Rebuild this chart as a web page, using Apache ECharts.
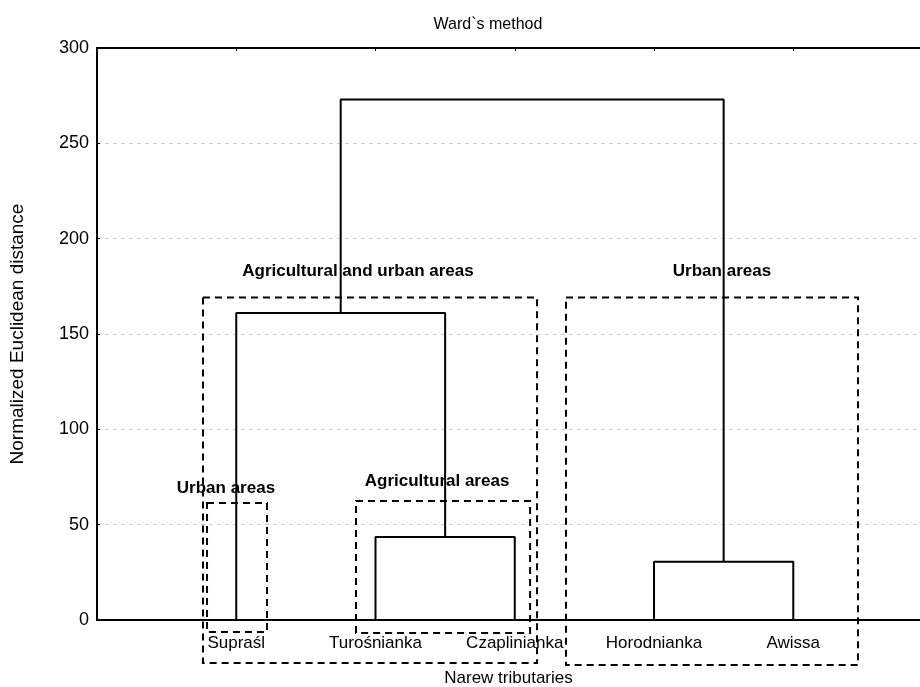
<!DOCTYPE html>
<html>
<head>
<meta charset="utf-8">
<script src="https://cdn.jsdelivr.net/npm/echarts@6/dist/echarts.min.js"></script>
<style>html,body{margin:0;padding:0;background:#fff}#c{width:920px;height:687px}</style>
</head>
<body>
<div id="c"></div>
<script>
// ---- data ----
var leaves = ['Supraśl', 'Turośnianka', 'Czaplinianka', 'Horodnianka', 'Awissa'];
// merges: [childA, childB, height]; nodes 0..4 are leaves, merges create nodes 5,6,...
var merges = [
  [1, 2, 43.5],
  [3, 4, 30.5],
  [0, 5, 161],
  [7, 6, 273]
];
var yTicks = [0, 50, 100, 150, 200, 250, 300];
// annotation groups
var groupNames = ['Agricultural and urban areas', 'Urban areas', 'Urban areas', 'Agricultural areas'];
var groupBoxes = [
  [0.761, 3.160, -22.5, 169.2],
  [3.368, 5.465, -23.6, 169.2],
  [0.790, 1.221, -6.3, 61.3],
  [1.860, 3.110, -6.8, 62.4]
];
var groupLabelPos = [
  [1.874, 183],
  [4.488, 183],
  [0.926, 69],
  [2.442, 73]
];

// ---- build dendrogram segments ----
var nodeX = leaves.map(function (_, i) { return i + 1; });
var nodeH = leaves.map(function () { return 0; });
var series = [];
merges.forEach(function (m) {
  var a = m[0], b = m[1], h = m[2];
  series.push({
    type: 'line',
    data: [[nodeX[a], nodeH[a]], [nodeX[a], h], [nodeX[b], h], [nodeX[b], nodeH[b]]],
    symbol: 'none',
    clip: false,
    lineStyle: { color: '#000', width: 2 },
    silent: true,
    animation: false
  });
  nodeX.push((nodeX[a] + nodeX[b]) / 2);
  nodeH.push(h);
});

series.push({
  type: 'custom',
  clip: false,
  silent: true,
  animation: false,
  data: groupBoxes.map(function (b, i) { return [i]; }),
  renderItem: function (params, api) {
    var i = params.dataIndex;
    var b = groupBoxes[i];
    var p0 = api.coord([b[0], b[3]]);
    var p1 = api.coord([b[1], b[2]]);
    var lp = api.coord(groupLabelPos[i]);
    return {
      type: 'group',
      children: [
        {
          type: 'rect',
          shape: { x: p0[0], y: p0[1], width: p1[0] - p0[0], height: p1[1] - p0[1] },
          style: { fill: null, stroke: '#000', lineWidth: 2, lineDash: [7, 5] }
        },
        {
          type: 'text',
          x: lp[0], y: lp[1],
          style: {
            text: groupNames[i],
            fill: '#000',
            font: 'bold 17px "Liberation Sans", Arial, sans-serif',
            align: 'center',
            verticalAlign: 'middle'
          }
        }
      ]
    };
  }
});

var chart = echarts.init(document.getElementById('c'), null, { renderer: 'canvas' });
chart.setOption({
  animation: false,
  backgroundColor: '#fff',
  textStyle: { fontFamily: '"Liberation Sans", Arial, sans-serif' },
  title: {
    text: 'Ward`s method',
    left: 483, top: 12,
    textAlign: 'center',
    textStyle: { fontSize: 16, fontWeight: 'normal', color: '#000', fontFamily: '"Liberation Sans", Arial, sans-serif' }
  },
  grid: { left: 97, right: 0, top: 48, bottom: 67, containLabel: false, outerBoundsMode: 'none' },
  xAxis: [
    {
      type: 'value', min: 0, max: 5.91, interval: 1,
      position: 'bottom',
      name: 'Narew tributaries', nameLocation: 'middle', nameGap: 50,
      nameTextStyle: { fontSize: 17, color: '#000' },
      axisLine: { show: true, onZero: false, lineStyle: { color: '#000', width: 2 } },
      axisTick: { show: false },
      splitLine: { show: false },
      axisLabel: {
        show: true, fontSize: 17, color: '#000', margin: 15,
        formatter: function (v) {
          var r = Math.round(v);
          return (Math.abs(r - v) < 1e-6 && r >= 1 && r <= leaves.length) ? leaves[r - 1] : '';
        }
      }
    },
    {
      type: 'value', min: 0, max: 5.91, interval: 1,
      position: 'top',
      axisLine: { show: true, onZero: false, lineStyle: { color: '#000', width: 2 } },
      axisTick: { show: true, inside: true, length: 3, lineStyle: { color: '#000' } },
      axisLabel: { show: false },
      splitLine: { show: false }
    }
  ],
  yAxis: {
    type: 'value', min: yTicks[0], max: yTicks[yTicks.length - 1], interval: 50,
    name: 'Normalized Euclidean distance', nameLocation: 'middle', nameGap: 70, nameRotate: 90,
    nameTextStyle: { fontSize: 19, color: '#000' },
    axisLine: { show: true, lineStyle: { color: '#000', width: 2 } },
    axisTick: { show: true, inside: true, length: 3, lineStyle: { color: '#000' } },
    axisLabel: { fontSize: 18, color: '#000', margin: 8 },
    splitLine: { show: true, lineStyle: { color: '#d0d0d0', type: [4, 4], width: 1 } }
  },
  series: series
});
</script>
</body>
</html>
